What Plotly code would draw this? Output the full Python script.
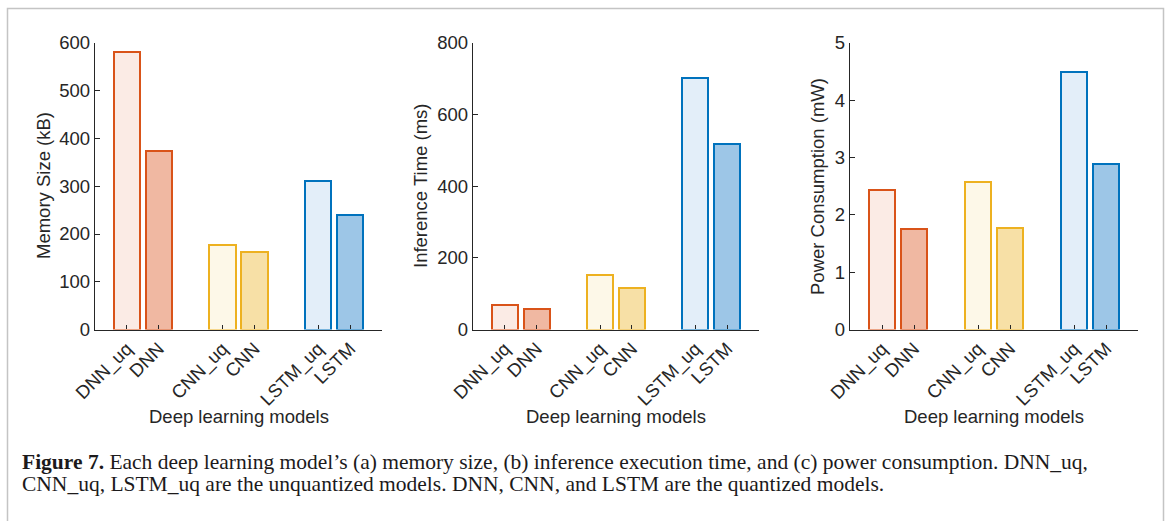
import plotly.graph_objects as go

# ---- data ----
models = ["DNN_uq", "DNN", "CNN_uq", "CNN", "LSTM_uq", "LSTM"]
memory_kb = [582, 374, 176, 162, 310, 239]
inference_ms = [69, 56, 152, 117, 702, 517]
power_mw = [2.44, 1.75, 2.57, 1.77, 4.50, 2.88]

y_titles = ["Memory Size (kB)", "Inference Time (ms)", "Power Consumption (mW)"]
x_title = "Deep learning models"
y_max = [600, 800, 5]
y_step = [100, 200, 1]

caption_line1 = ("<b>Figure 7.</b> Each deep learning model\u2019s (a) memory size, "
                 "(b) inference execution time, and (c) power consumption. DNN_uq,")
caption_line2 = ("CNN_uq, LSTM_uq are the unquantized models. DNN, CNN, and LSTM "
                 "are the quantized models.")

# ---- styles ----
fills = ["#fbebe5", "#f0b8a2", "#fdf8e8", "#f7e0a6", "#e3eef9", "#9dc6e7"]
edges = ["#d95319", "#d95319", "#edb120", "#edb120", "#0072bd", "#0072bd"]
ink = "#262626"
sans = "Liberation Sans, Arial, Helvetica, sans-serif"
serif = "Liberation Serif, Times New Roman, serif"
W, H = 1172, 521
FS = 18.5

# bar positions: pairs with a gap between groups
xpos = [(i // 2) * 3 + (i % 2) + 1 for i in range(len(models))]

# axes pixel boxes
x_px = [(95, 382), (473, 759), (850, 1138)]
y_px = (43, 329.5)

fig = go.Figure()
series = [memory_kb, inference_ms, power_mw]
for k, vals in enumerate(series):
    ax = "" if k == 0 else str(k + 1)
    fig.add_trace(go.Bar(
        x=xpos, y=vals, width=0.82,
        marker=dict(color=fills, line=dict(color=edges, width=2)),
        xaxis="x" + ax, yaxis="y" + ax, showlegend=False,
        hoverinfo="x+y",
    ))
    x0, x1 = x_px[k]
    xd = [x0 / W, x1 / W]
    yd = [1 - y_px[1] / H, 1 - y_px[0] / H]
    fig.layout["xaxis" + ax] = dict(
        domain=xd, range=[0, 9], anchor="y" + ax, automargin=False,
        tickvals=xpos, ticktext=models, tickangle=-45,
        ticks="inside", ticklen=4, tickwidth=1, tickcolor=ink,
        showline=True, linecolor=ink, linewidth=1.3,
        showgrid=False, zeroline=False,
        tickfont=dict(family=sans, size=FS, color=ink),
    )
    fig.layout["yaxis" + ax] = dict(
        domain=yd, range=[0, y_max[k]], anchor="x" + ax, automargin=False,
        dtick=y_step[k], tick0=0,
        ticks="inside", ticklen=5, tickwidth=1, tickcolor=ink,
        showline=True, linecolor=ink, linewidth=1.3,
        showgrid=False, zeroline=False,
        tickfont=dict(family=sans, size=FS, color=ink),
    )

annotations = []
ytitle_x = [44, 421, 818]
for k in range(3):
    x0, x1 = x_px[k]
    annotations.append(dict(
        text=y_titles[k], x=ytitle_x[k] / W, y=1 - 186 / H,
        xref="paper", yref="paper", showarrow=False, textangle=-90,
        xanchor="center", yanchor="middle",
        font=dict(family=sans, size=FS, color=ink),
    ))
    annotations.append(dict(
        text=x_title, x=(x0 + x1) / 2 / W, y=1 - 416 / H,
        xref="paper", yref="paper", showarrow=False,
        xanchor="center", yanchor="middle",
        font=dict(family=sans, size=FS, color=ink),
    ))

annotations.append(dict(
    text=caption_line1, x=20 / W, y=1 - 461.5 / H, xref="paper", yref="paper",
    showarrow=False, xanchor="left", yanchor="middle",
    font=dict(family=serif, size=21.5, color="#1c1a1b"),
))
annotations.append(dict(
    text=caption_line2, x=20 / W, y=1 - 483.5 / H, xref="paper", yref="paper",
    showarrow=False, xanchor="left", yanchor="middle",
    font=dict(family=serif, size=21.5, color="#1c1a1b"),
))

fig.update_layout(
    width=W, height=H,
    margin=dict(l=0, r=0, t=0, b=0, pad=0, autoexpand=False),
    paper_bgcolor="white", plot_bgcolor="white",
    annotations=annotations,
    shapes=[dict(type="rect", xref="paper", yref="paper",
                 x0=7.5 / W, x1=1163.5 / W, y0=-0.2, y1=1 - 8.5 / H,
                 line=dict(color="#c4c4c4", width=1.5), fillcolor="rgba(0,0,0,0)",
                 layer="below")],
    bargap=0,
)

fig.write_html("out.html")
